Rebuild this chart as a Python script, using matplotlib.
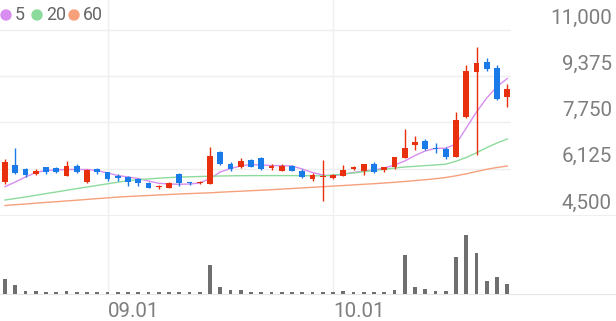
import matplotlib.pyplot as plt
from matplotlib.patches import Ellipse
import numpy as np

# daily candles (KRW)
opens = [5670, 6257, 6106, 5941, 6176, 6162, 5881, 6232, 5649, 6116,
         6000, 5870, 5846, 5765, 5614, 5473, 5459, 5930, 5670, 5614,
         5589, 6724, 6292, 6176, 6432, 6492, 6141, 6057, 6232, 6057,
         5765, 5846, 5789, 5877, 6116, 6057, 6285, 6081, 6169, 6520,
         6977, 7111, 6865, 6836, 6555, 7933, 9535, 9865, 9654, 8635]
highs = [6468, 6854, 6141, 6106, 6197, 6197, 6397, 6292, 6099, 6141,
         6021, 5930, 5881, 5811, 5649, 5554, 5649, 5965, 5670, 5695,
         6889, 6759, 6352, 6492, 6468, 6527, 6281, 6281, 6246, 6106,
         5993, 6422, 5941, 6267, 6239, 6292, 6362, 6204, 6527, 7515,
         7293, 7153, 7019, 6900, 8119, 9753, 10392, 10006, 9770, 9110]
lows = [5589, 5941, 5846, 5895, 5930, 5986, 5870, 5965, 5624, 5930,
        5695, 5705, 5530, 5530, 5438, 5414, 5438, 5530, 5554, 5589,
        5589, 6257, 6046, 6162, 6186, 6071, 6081, 6057, 6046, 5789,
        5684, 5002, 5775, 5870, 6071, 5916, 5986, 6021, 6099, 6492,
        6784, 6784, 6668, 6468, 6527, 7898, 6608, 9570, 8541, 8305]
closes = [6362, 5986, 5905, 6057, 6021, 6011, 6232, 6021, 6081, 6000,
          5765, 5811, 5670, 5614, 5459, 5530, 5614, 5614, 5614, 5670,
          6583, 6281, 6116, 6397, 6197, 6116, 6222, 6222, 6057, 5825,
          5916, 5860, 5905, 6092, 6194, 6285, 6021, 6187, 6527, 6865,
          7058, 6829, 6829, 6527, 7838, 9570, 9830, 9630, 8576, 8916]
volumes = [1500, 900, 270, 270, 200, 200, 300, 200, 150, 150,
           150, 150, 150, 150, 150, 150, 150, 150, 150, 150,
           2900, 670, 430, 400, 230, 230, 200, 200, 150, 170,
           150, 150, 150, 300, 230, 230, 200, 230, 430, 3800,
           670, 500, 330, 330, 3600, 5800, 4000, 1230, 1670, 1000]

# moving averages as drawn
ma5 = [5494, 5659, 5835, 5993, 6063, 6081, 6099, 6099, 6099, 6063,
       5976, 5888, 5835, 5782, 5695, 5614, 5589, 5579, 5589, 5624,
       5782, 6011, 6134, 6222, 6274, 6257, 6239, 6232, 6222, 6116,
       5993, 5905, 5870, 5940, 5993, 6046, 6081, 6151, 6257, 6397,
       6591, 6749, 6843, 6843, 6995, 7557, 8119, 8611, 9008, 9296]
ma20 = [5027, 5080, 5132, 5192, 5252, 5308, 5368, 5428, 5484, 5540,
        5596, 5652, 5705, 5740, 5768, 5793, 5814, 5832, 5842, 5853,
        5863, 5870, 5877, 5881, 5884, 5884, 5884, 5884, 5884, 5881,
        5877, 5877, 5905, 5940, 5976, 6021, 6063, 6106, 6151, 6186,
        6211, 6235, 6260, 6285, 6390, 6520, 6685, 6868, 7030, 7170]
ma60 = [4834, 4862, 4886, 4915, 4943, 4967, 4995, 5020, 5048, 5076,
        5101, 5129, 5150, 5168, 5185, 5203, 5220, 5238, 5252, 5266,
        5280, 5301, 5319, 5336, 5354, 5371, 5389, 5410, 5431, 5452,
        5473, 5494, 5515, 5536, 5558, 5579, 5600, 5624, 5649, 5677,
        5709, 5740, 5775, 5818, 5877, 5947, 6028, 6106, 6169, 6222]

price_ticks = [4500, 6125, 7750, 9375, 11000]
date_ticks = [10, 32]
date_labels = ['09.01', '10.01']
ma_names = ['5', '20', '60']

UP = '#e8300e'
DOWN = '#1a7ae8'
MA_COLORS = ['#d78ef0', '#8ddb9c', '#f7a07c']
GRID = '#efefef'
TXT = '#7e7e7e'

plt.rcParams['font.family'] = ['Roboto', 'DejaVu Sans']

W, H = 616, 321
fig = plt.figure(figsize=(W / 100, H / 100), dpi=100)
ax = fig.add_axes([0, (H - 215) / H, 511 / W, 215 / H])
axv = fig.add_axes([0, (H - 294) / H, 1, 79 / H])

x = np.arange(len(closes))
o = np.array(opens)
c = np.array(closes)
up = c >= o
colors = np.where(up, UP, DOWN)

# moving averages
for vals, col in zip([ma5, ma20, ma60], MA_COLORS):
    ax.plot(x, vals, color=col, lw=1.0, zorder=2)

# candles
ax.vlines(x, lows, highs, colors=colors, lw=1.0, zorder=3)
body = np.maximum(np.abs(c - o), 40)
ax.bar(x, body, bottom=np.minimum(o, c), width=0.54, color=colors, zorder=4)

ax.set_xlim(-5 / 10.25, 506 / 10.25)
ax.set_ylim(4500, 4500 + 215 * 6500 / 185)
ax.set_yticks(price_ticks[1:])
ax.set_xticks(date_ticks)
ax.grid(True, color=GRID, lw=1.0, zorder=0)
ax.tick_params(length=0, labelleft=False, labelbottom=False)
for s in ax.spines.values():
    s.set_visible(False)

for p in price_ticks:
    ax.annotate(f'{p:,}', xy=(612 / W, p), xycoords=('figure fraction', 'data'),
                xytext=(0, 6.5), textcoords='offset pixels', ha='right', va='baseline',
                fontsize=14.8, color=TXT, annotation_clip=False)

# volume
axv.bar(x, volumes, width=0.37, color='#6f6f6f', zorder=3)
axv.set_xlim(-5 / 10.25, 611 / 10.25)
axv.set_ylim(0, max(volumes) * 79 / 59)
axv.set_xticks(date_ticks)
axv.set_yticks([])
axv.grid(True, axis='x', color=GRID, lw=1.0, zorder=0)
axv.tick_params(length=0, labelbottom=False)
for side in ['left', 'right']:
    axv.spines[side].set_visible(False)
axv.spines['top'].set_color(GRID)
axv.spines['bottom'].set_color('#e6e6e6')
for pos, lab in zip(date_ticks, date_labels):
    axv.annotate(lab, xy=(pos, 0), xycoords=('data', 'axes fraction'),
                 xytext=(0.5, -23), textcoords='offset pixels', ha='left', va='baseline',
                 fontsize=14.8, color=TXT, annotation_clip=False)

# legend
lx = [6, 37, 74]
tx = [15, 46, 83]
for px, t, name, col in zip(lx, tx, ma_names, MA_COLORS):
    fig.patches.append(Ellipse((px / W, (H - 15) / H), 10 / W, 10 / H,
                               transform=fig.transFigure, color=col, figure=fig))
    fig.text(t / W, (H - 15) / H, name, ha='left', va='center', fontsize=12.8, color='#666666')

fig.savefig('out.png', dpi=100)
